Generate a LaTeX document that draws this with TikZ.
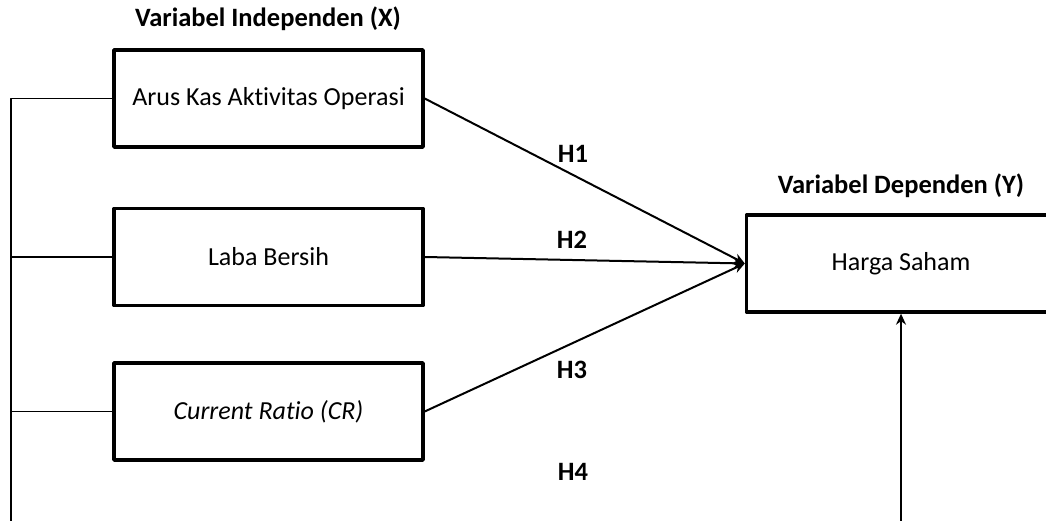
\documentclass[tikz,border=0pt]{standalone}
\usepackage{fontspec}
\setmainfont{Carlito}[Ligatures=CommonOff]
\usetikzlibrary{arrows.meta}
\begin{document}
\begin{tikzpicture}[x=1pt, y=-1pt, line join=round, >={Stealth[length=11pt,width=10pt]},
    varbox/.style={draw, line width=3.4pt, minimum width=309pt, minimum height=97pt,
        inner sep=0pt, font=\fontsize{26}{30}\selectfont},
    hlabel/.style={font=\bfseries\fontsize{26.5}{32}\selectfont},
    link/.style={line width=2pt}]
    \useasboundingbox (0,0) rectangle (1046,521);
    \clip (0,0) rectangle (1046,521);
    % independent variables
    \node[varbox] (aks) at (268.5,98.5) {Arus Kas Aktivitas Operasi};
    \node[varbox] (lb) at (268.5,257) {Laba Bersih};
    \node[varbox] (cr) at (268.5,411.5) {\itshape Current Ratio (CR)};
    % dependent variable
    \node[varbox] (hs) at (901,263.5) {Harga Saham};
    \node[hlabel] (titleX) at (268,19) {Variabel Independen (X)};
    \node[hlabel] (titleY) at (901,186) {Variabel Dependen (Y)};
    % hypotheses
    \node[hlabel] (h1) at (573,154) {H1};
    \node[hlabel] (h2) at (572,240) {H2};
    \node[hlabel] (h3) at (572,370) {H3};
    \node[hlabel] (h4) at (573,472) {H4};
    \draw[->, link] (aks.east) -- (hs.west);
    \draw[->, link] (lb.east) -- (hs.west);
    \draw[->, link] (cr.east) -- (hs.west);
    % simultaneous path
    \coordinate (L) at (11,530);
    \coordinate (B) at (901,530);
    \draw[line width=1.5pt] (aks.west) -| (L);
    \draw[line width=1.5pt] (lb.west) -- (lb.west -| L);
    \draw[line width=1.5pt] (cr.west) -- (cr.west -| L);
    \draw[->, link] (B) -- (hs.south);
\end{tikzpicture}
\end{document}
